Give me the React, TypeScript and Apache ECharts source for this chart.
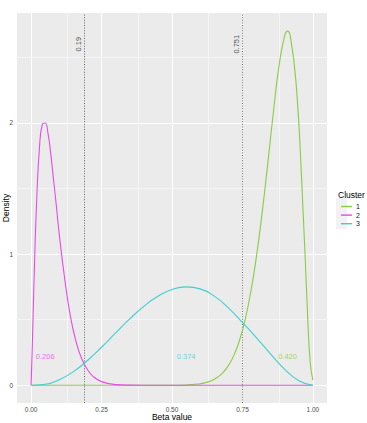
import React, { useEffect, useRef } from "react";
import * as echarts from "echarts";

// ---- data ----
const clusterNames = ["1", "2", "3"];
const clusterColors = ["#8BCB43", "#E64CE6", "#3FCFCF"];

// cluster 1 (green)
const x1 = [0, 0.1, 0.2, 0.3, 0.4, 0.5, 0.55, 0.6, 0.62, 0.64, 0.66, 0.68, 0.7, 0.72, 0.74, 0.76, 0.78, 0.8, 0.82, 0.84, 0.86, 0.88, 0.9, 0.91, 0.92, 0.94, 0.96, 0.98, 0.99, 1.0];
const y1 = [0, 0, 0, 0, 0.00002, 0.0005, 0.0026, 0.012, 0.021, 0.035, 0.059, 0.095, 0.15, 0.23, 0.345, 0.505, 0.717, 0.988, 1.318, 1.694, 2.087, 2.439, 2.667, 2.7, 2.66, 2.311, 1.571, 0.596, 0.183, 0.04];

// cluster 2 (magenta)
const x2 = [0, 0.005, 0.01, 0.02, 0.03, 0.04, 0.05, 0.06, 0.07, 0.08, 0.09, 0.1, 0.12, 0.14, 0.16, 0.18, 0.2, 0.22, 0.25, 0.3, 0.35, 0.4, 0.5, 0.6, 0.7, 0.8, 0.9, 1.0];
const y2 = [0, 0.35, 0.76, 1.42, 1.82, 1.99, 2.0, 1.92, 1.76, 1.56, 1.36, 1.15, 0.8, 0.52, 0.33, 0.2, 0.12, 0.068, 0.028, 0.005, 0.001, 0, 0, 0, 0, 0, 0, 0];

// cluster 3 (cyan)
const x3 = [0, 0.05, 0.1, 0.15, 0.2, 0.25, 0.3, 0.35, 0.4, 0.45, 0.5, 0.55, 0.6, 0.65, 0.7, 0.75, 0.8, 0.85, 0.9, 0.95, 1.0];
const y3 = [0, 0.008, 0.043, 0.104, 0.189, 0.29, 0.399, 0.506, 0.602, 0.679, 0.73, 0.75, 0.735, 0.68, 0.59, 0.478, 0.362, 0.238, 0.122, 0.035, 0];

const xTicks = [0, 0.25, 0.5, 0.75, 1];
const xMinor = [0.125, 0.375, 0.625, 0.875];
const yTicks = [0, 1, 2];
const yMinor = [0.5, 1.5, 2.5];

const cutoffs = [0.19, 0.751];
const cutoffLabels = ["0.19", "0.751"];
const cutoffLabelY = 2.6;

const weightLabels = ["0.420", "0.206", "0.374"];
const weightX = [0.91, 0.05, 0.55];
const weightY = 0.22;

const FONT = "Liberation Sans, Arial, Helvetica, sans-serif";

export default function App() {
  const ref = useRef<HTMLDivElement>(null);
  useEffect(() => {
    if (!ref.current) return;
    const chart = echarts.init(ref.current, undefined, { renderer: "svg" });
    const xs = [x1, x2, x3];
    const ys = [y1, y2, y3];
    const curveSeries = clusterNames.map((name, i) => ({
      name,
      type: "line",
      data: xs[i].map((x, j) => [x, ys[i][j]]),
      showSymbol: false,
      symbol: "none",
      smooth: 0.5,
      lineStyle: { color: clusterColors[i], width: 1.1 },
      itemStyle: { color: clusterColors[i] },
      z: 3,
    }));

    const gridLines = [
      ...xMinor.map((v) => ({ xAxis: v, lineStyle: { color: "#FFFFFF", width: 0.5, type: "solid" } })),
      ...yMinor.map((v) => ({ yAxis: v, lineStyle: { color: "#FFFFFF", width: 0.5, type: "solid" } })),
      ...xTicks.map((v) => ({ xAxis: v, lineStyle: { color: "#FFFFFF", width: 1, type: "solid" } })),
      ...yTicks.map((v) => ({ yAxis: v, lineStyle: { color: "#FFFFFF", width: 1, type: "solid" } })),
      ...cutoffs.map((v) => ({ xAxis: v, lineStyle: { color: "#444444", width: 0.8, type: [1, 1.6] } })),
    ];

    chart.setOption({
      animation: false,
      textStyle: { fontFamily: FONT },
      title: {
        text: "Cluster",
        left: 333,
        top: 185,
        textStyle: { fontSize: 8.5, fontWeight: "normal", color: "#000000", fontFamily: FONT },
      },
      legend: {
        data: clusterNames,
        orient: "vertical",
        left: 336,
        top: 198,
        itemWidth: 11,
        itemHeight: 9,
        itemGap: 1.6,
        icon: "path://M0,4.3 L11,4.3 L11,5.7 L0,5.7 Z",
        textStyle: { fontSize: 7, color: "#1A1A1A", fontFamily: FONT, padding: [0, 0, 0, -1] },
        selectedMode: false,
      },
      grid: {
        left: 17,
        right: 40,
        top: 13,
        bottom: 20,
        containLabel: false,
        outerBoundsMode: "none",
        show: true,
        backgroundColor: "#EBEBEB",
        borderWidth: 0,
      },
      xAxis: {
        type: "value",
        min: -0.05,
        max: 1.05,
        name: "Beta value",
        nameLocation: "middle",
        nameGap: 9,
        nameMoveOverlap: false,
        nameTextStyle: { fontSize: 8.5, color: "#000000", fontFamily: FONT },
        axisLine: { show: false },
        splitLine: { show: false },
        axisTick: { show: true, length: 2.7, lineStyle: { color: "#333333", width: 0.6 }, customValues: xTicks },
        axisLabel: {
          customValues: xTicks,
          formatter: (v: number) => v.toFixed(2),
          fontSize: 6.5,
          color: "#4D4D4D",
          margin: 3,
          fontFamily: FONT,
        },
      },
      yAxis: {
        type: "value",
        min: -0.135,
        max: 2.838,
        name: "Density",
        nameLocation: "middle",
        nameRotate: 90,
        nameGap: 7,
        nameMoveOverlap: false,
        nameTextStyle: { fontSize: 8.5, color: "#000000", fontFamily: FONT },
        axisLine: { show: false },
        splitLine: { show: false },
        axisTick: { show: true, length: 2.7, lineStyle: { color: "#333333", width: 0.6 }, customValues: yTicks },
        axisLabel: {
          customValues: yTicks,
          formatter: (v: number) => String(v),
          fontSize: 6.5,
          color: "#4D4D4D",
          margin: 4,
          fontFamily: FONT,
        },
      },
      graphic: [
        { type: "rect", left: 336, top: 198, shape: { width: 11, height: 31 }, style: { fill: "#F2F2F2" }, z: -1 },
      ],
      series: [
        {
          name: "grid",
          type: "line",
          data: [[0, 0]],
          symbol: "none",
          lineStyle: { opacity: 0 },
          silent: true,
          z: 1,
          markLine: {
            silent: true,
            symbol: "none",
            z: 1,
            label: { show: false },
            data: gridLines,
          },
        },
        ...curveSeries,
        {
          name: "cutoffLabels",
          type: "scatter",
          symbolSize: 0,
          silent: true,
          z: 4,
          data: cutoffs.map((c, i) => ({ value: [c, cutoffLabelY], name: cutoffLabels[i] })),
          label: {
            show: true,
            position: "inside",
            rotate: 90,
            offset: [0, -6],
            formatter: (p: any) => p.name,
            fontSize: 7.5,
            color: "#1A1A1A",
            fontFamily: FONT,
          },
        },
        {
          name: "weights",
          type: "scatter",
          symbolSize: 0,
          silent: true,
          z: 4,
          data: weightLabels.map((w, i) => ({
            value: [weightX[i], weightY],
            name: w,
            label: { color: clusterColors[i] },
          })),
          label: {
            show: true,
            position: "inside",
            formatter: (p: any) => p.name,
            fontSize: 7.5,
            fontFamily: FONT,
          },
        },
      ],
    });
    return () => chart.dispose();
  }, []);
  return (
    <div
      ref={ref}
      style={{ position: "fixed", left: 0, top: 0, width: 367, height: 423, background: "#FFFFFF" }}
    />
  );
}
